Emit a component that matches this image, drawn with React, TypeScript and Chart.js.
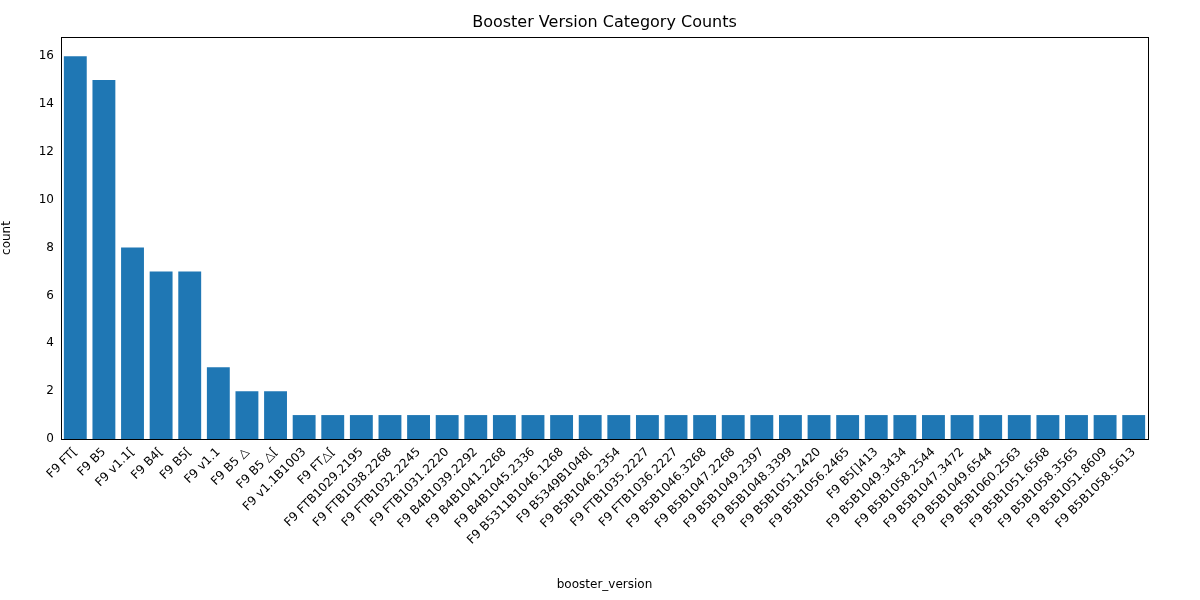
import React, { useEffect, useRef } from 'react';
import { Chart, registerables } from 'chart.js';

Chart.register(...registerables);

const boosterVersions = [
    'F9 FT[', 'F9 B5', 'F9 v1.1[', 'F9 B4[', 'F9 B5[', 'F9 v1.1', 'F9 B5 △', 'F9 B5 △[',
    'F9 v1.1B1003', 'F9 FT△[', 'F9 FTB1029.2195', 'F9 FTB1038.2268', 'F9 FTB1032.2245',
    'F9 FTB1031.2220', 'F9 B4B1039.2292', 'F9 B4B1041.2268', 'F9 B4B1045.2336',
    'F9 B5311B1046.1268', 'F9 B5349B1048[', 'F9 B5B1046.2354', 'F9 FTB1035.2227',
    'F9 FTB1036.2227', 'F9 B5B1046.3268', 'F9 B5B1047.2268', 'F9 B5B1049.2397',
    'F9 B5B1048.3399', 'F9 B5B1051.2420', 'F9 B5B1056.2465', 'F9 B5[]413',
    'F9 B5B1049.3434', 'F9 B5B1058.2544', 'F9 B5B1047.3472', 'F9 B5B1049.6544',
    'F9 B5B1060.2563', 'F9 B5B1051.6568', 'F9 B5B1058.3565', 'F9 B5B1051.8609',
    'F9 B5B1058.5613',
];
const counts = [16, 15, 8, 7, 7, 3, 2, 2, ...boosterVersions.slice(8).map(() => 1)];
const yTicks = [0, 2, 4, 6, 8, 10, 12, 14, 16];

const font = { family: 'DejaVu Sans', size: 12 };

const framePlugin = {
    id: 'frame',
    afterDraw(chart: Chart) {
        const { ctx, chartArea: a } = chart;
        ctx.save();
        ctx.strokeStyle = '#000';
        ctx.lineWidth = 1;
        ctx.strokeRect(a.left + 0.5, a.top + 0.5, a.right - a.left, a.bottom - a.top);
        ctx.fillStyle = '#000';
        ctx.font = '16px DejaVu Sans';
        ctx.textAlign = 'center';
        ctx.textBaseline = 'middle';
        ctx.fillText('Booster Version Category Counts', (a.left + a.right) / 2, 23);
        ctx.restore();
    },
};

export default function App() {
    const canvas = useRef<HTMLCanvasElement | null>(null);
    useEffect(() => {
        const item = canvas.current?.getContext('2d');
        const chart =
            item &&
            new Chart(item, {
                type: 'bar',
                data: {
                    labels: boosterVersions,
                    datasets: [{ data: counts, backgroundColor: '#1f77b4', categoryPercentage: 1, barPercentage: 0.8 }],
                },
                options: {
                    animation: false,
                    responsive: false,
                    layout: { padding: { top: 37, right: 52, left: 0, bottom: 0 } },
                    plugins: { legend: { display: false }, tooltip: { enabled: false } },
                    scales: {
                        x: {
                            grid: { display: false, drawTicks: true, tickLength: 4, color: '#000' },
                            border: { color: '#000' },
                            ticks: { autoSkip: false, maxRotation: 45, minRotation: 45, color: '#000', font, padding: 2 },
                            title: { display: true, text: 'booster_version', color: '#000', font, padding: { top: 0, bottom: 8 } },
                            afterFit: (s: any) => { s.height = 161; },
                        },
                        y: {
                            min: 0,
                            max: 16.8,
                            afterBuildTicks: (s: any) => { s.ticks = yTicks.map((v) => ({ value: v })); },
                            grid: { display: false, drawTicks: true, tickLength: 4, color: '#000' },
                            border: { color: '#000' },
                            ticks: { color: '#000', font },
                            title: { display: true, text: 'count', color: '#000', font, padding: { top: 0, bottom: 4 } },
                            afterFit: (s: any) => { s.width = 61; },
                        },
                    },
                },
                plugins: [framePlugin],
            });
        return () => chart?.destroy();
    });
    return (
        <div style={{ position: 'absolute', left: 0, top: 0, width: 1200, height: 600, background: '#fff' }}>
            <canvas ref={canvas} width={1200} height={600} />
        </div>
    );
}
